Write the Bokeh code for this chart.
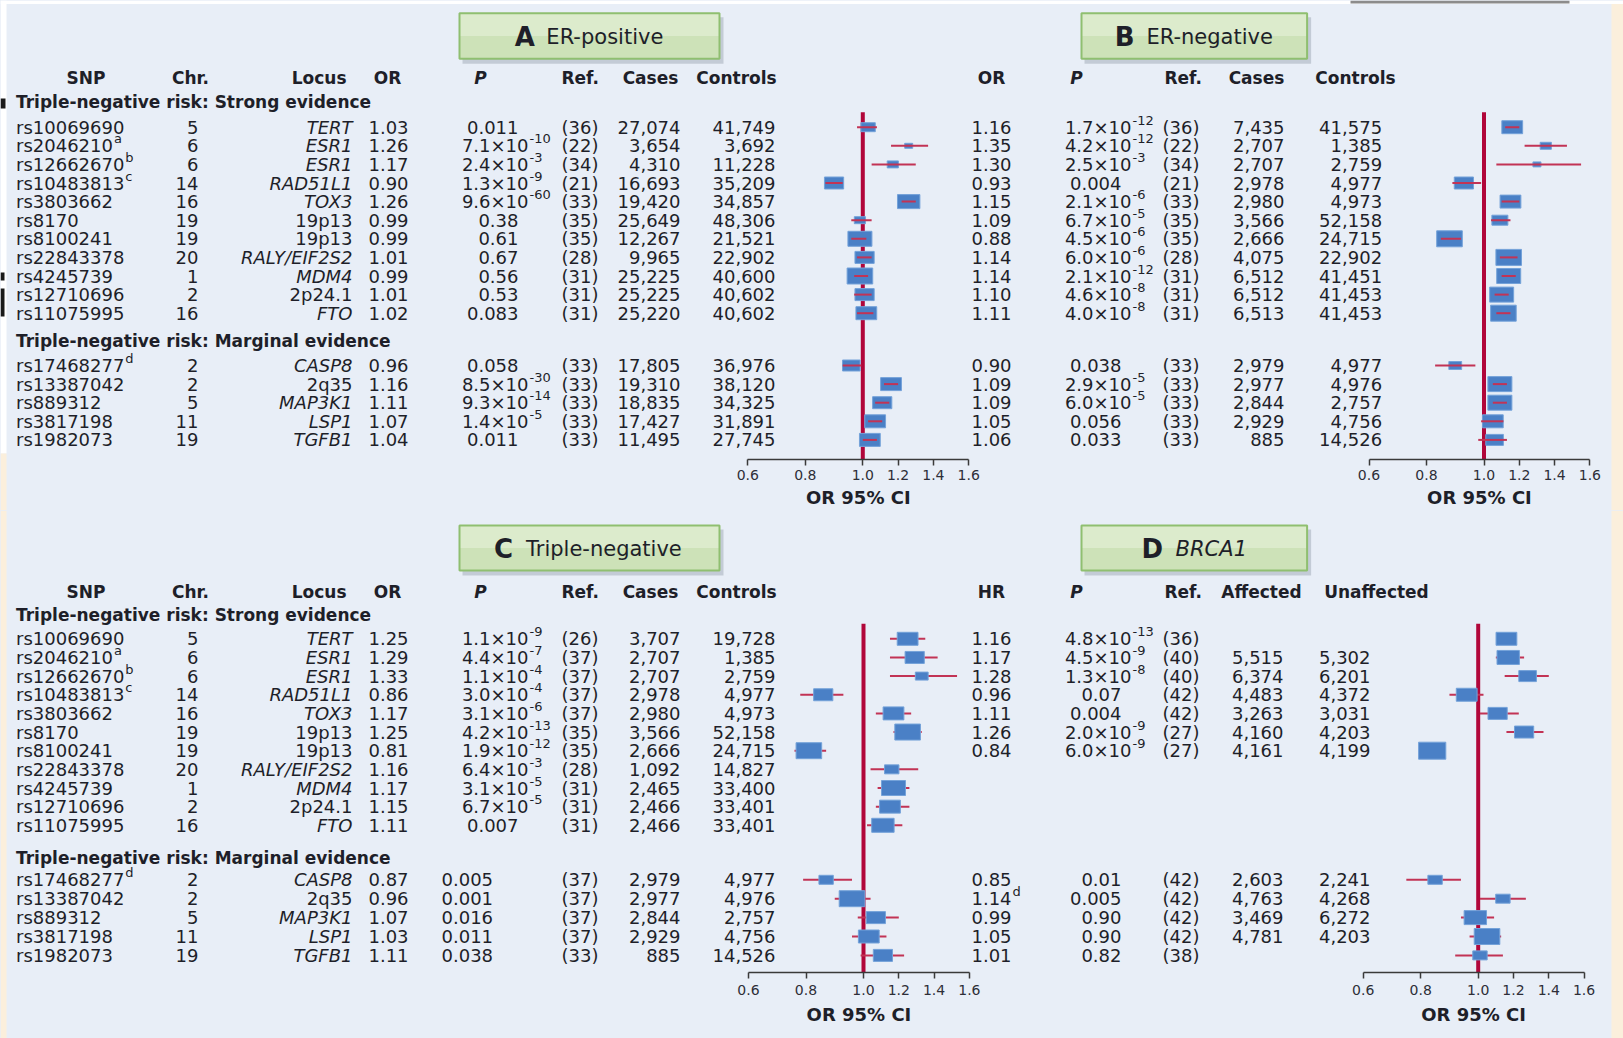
import re
from bokeh.plotting import figure
from bokeh.models import ColumnDataSource, Range1d, FixedTicker, GridBox, LinearAxis
from bokeh.core.properties import value
from bokeh.embed import file_html
from bokeh.resources import INLINE

# ------------------------------------------------------------------ data
snp = ["rs10069690", "rs2046210", "rs12662670", "rs10483813", "rs3803662", "rs8170",
       "rs8100241", "rs22843378", "rs4245739", "rs12710696", "rs11075995",
       "rs17468277", "rs13387042", "rs889312", "rs3817198", "rs1982073"]
snp_note = ["", "a", "b", "c", "", "", "", "", "", "", "", "d", "", "", "", ""]
chrom = [5, 6, 6, 14, 16, 19, 19, 20, 1, 2, 16, 2, 2, 5, 11, 19]
locus = ["TERT", "ESR1", "ESR1", "RAD51L1", "TOX3", "19p13", "19p13", "RALY/EIF2S2",
         "MDM4", "2p24.1", "FTO", "CASP8", "2q35", "MAP3K1", "LSP1", "TGFB1"]

# A: ER-positive
or_A = [1.03, 1.26, 1.17, 0.90, 1.26, 0.99, 0.99, 1.01, 0.99, 1.01, 1.02, 0.96, 1.16, 1.11, 1.07, 1.04]
lo_A = [0.98, 1.16, 1.05, 0.87, 1.22, 0.96, 0.96, 0.98, 0.97, 0.97, 0.98, 0.93, 1.12, 1.07, 1.03, 1.00]
hi_A = [1.08, 1.37, 1.30, 0.93, 1.30, 1.05, 1.02, 1.05, 1.03, 1.05, 1.06, 0.995, 1.20, 1.15, 1.11, 1.08]
w_A = [9, 5, 7, 12, 14, 7, 15, 12, 16, 12, 13, 11, 13, 12, 13, 13]
p_A = ["0.011", "7.1e-10", "2.4e-3", "1.3e-9", "9.6e-60", "0.38", "0.61", "0.67", "0.56",
       "0.53", "0.083", "0.058", "8.5e-30", "9.3e-14", "1.4e-5", "0.011"]
ref_A = [36, 22, 34, 21, 33, 35, 35, 28, 31, 31, 31, 33, 33, 33, 33, 33]
cases_A = [27074, 3654, 4310, 16693, 19420, 25649, 12267, 9965, 25225, 25225, 25220,
           17805, 19310, 18835, 17427, 11495]
ctrl_A = [41749, 3692, 11228, 35209, 34857, 48306, 21521, 22902, 40600, 40602, 40602,
          36976, 38120, 34325, 31891, 27745]

# B: ER-negative
or_B = [1.16, 1.35, 1.30, 0.93, 1.15, 1.09, 0.88, 1.14, 1.14, 1.10, 1.11, 0.90, 1.09, 1.09, 1.05, 1.06]
lo_B = [1.12, 1.23, 1.07, 0.89, 1.10, 1.04, 0.85, 1.09, 1.10, 1.06, 1.07, 0.83, 1.05, 1.05, 0.99, 0.98]
hi_B = [1.20, 1.47, 1.55, 0.99, 1.20, 1.15, 0.92, 1.19, 1.18, 1.14, 1.15, 0.97, 1.13, 1.13, 1.11, 1.13]
w_B = [13, 7, 5, 12, 13, 10, 16, 16, 15, 15, 16, 8, 15, 15, 13, 11]
p_B = ["1.7e-12", "4.2e-12", "2.5e-3", "0.004", "2.1e-6", "6.7e-5", "4.5e-6", "6.0e-6",
       "2.1e-12", "4.6e-8", "4.0e-8", "0.038", "2.9e-5", "6.0e-5", "0.056", "0.033"]
ref_B = [36, 22, 34, 21, 33, 35, 35, 28, 31, 31, 31, 33, 33, 33, 33, 33]
cases_B = [7435, 2707, 2707, 2978, 2980, 3566, 2666, 4075, 6512, 6512, 6513, 2979, 2977, 2844, 2929, 885]
ctrl_B = [41575, 1385, 2759, 4977, 4973, 52158, 24715, 22902, 41451, 41453, 41453,
          4977, 4976, 2757, 4756, 14526]

# C: triple-negative
or_C = [1.25, 1.29, 1.33, 0.86, 1.17, 1.25, 0.81, 1.16, 1.17, 1.15, 1.11, 0.87, 0.96, 1.07, 1.03, 1.11]
lo_C = [1.15, 1.15, 1.15, 0.78, 1.07, 1.17, 0.76, 1.04, 1.08, 1.07, 1.02, 0.79, 0.90, 0.98, 0.96, 0.99]
hi_C = [1.35, 1.42, 1.53, 0.93, 1.27, 1.33, 0.87, 1.31, 1.26, 1.26, 1.22, 0.96, 1.04, 1.20, 1.13, 1.23]
w_C = [13, 12, 8, 12, 13, 16, 16, 9, 15, 13, 14, 9, 16, 12, 13, 12]
p_C = ["1.1e-9", "4.4e-7", "1.1e-4", "3.0e-4", "3.1e-6", "4.2e-13", "1.9e-12", "6.4e-3",
       "3.1e-5", "6.7e-5", "0.007", "0.005", "0.001", "0.016", "0.011", "0.038"]
ref_C = [26, 37, 37, 37, 37, 35, 35, 28, 31, 31, 31, 37, 37, 37, 37, 33]
cases_C = [3707, 2707, 2707, 2978, 2980, 3566, 2666, 1092, 2465, 2466, 2466, 2979, 2977, 2844, 2929, 885]
ctrl_C = [19728, 1385, 2759, 4977, 4973, 52158, 24715, 14827, 33400, 33401, 33401,
          4977, 4976, 2757, 4756, 14526]

# D: BRCA1 carriers (hazard ratios)
hr_D = [1.16, 1.17, 1.28, 0.96, 1.11, 1.26, 0.84, None, None, None, None, 0.85, 1.14, 0.99, 1.05, 1.01]
hr_note = ["", "", "", "", "", "", "", "", "", "", "", "", "d", "", "", ""]
lo_D = [1.12, 1.10, 1.15, 0.90, 1.01, 1.16, 0.81, None, None, None, None, 0.75, 1.01, 0.94, 0.97, 0.92]
hi_D = [1.20, 1.26, 1.40, 1.03, 1.23, 1.37, 0.88, None, None, None, None, 0.94, 1.27, 1.09, 1.13, 1.14]
w_D = [13, 14, 11, 13, 12, 12, 17, None, None, None, None, 9, 9, 14, 16, 9]
p_D = ["4.8e-13", "4.5e-9", "1.3e-8", "0.07", "0.004", "2.0e-9", "6.0e-9", None, None, None, None,
       "0.01", "0.005", "0.90", "0.90", "0.82"]
ref_D = [36, 40, 40, 42, 42, 27, 27, None, None, None, None, 42, 42, 42, 42, 38]
aff_D = [None, 5515, 6374, 4483, 3263, 4160, 4161, None, None, None, None, 2603, 4763, 3469, 4781, None]
unaff_D = [None, 5302, 6201, 4372, 3031, 4203, 4199, None, None, None, None, 2241, 4268, 6272, 4203, None]

axis_ticks = [0.6, 0.8, 1.0, 1.2, 1.4, 1.6]
axis_caption = "OR 95% CI"

# ------------------------------------------------------------------ style
W = 1623
FONT = "DejaVu Sans"
INK = "#1e1f29"
BG = "#e8eef7"
CREAM = "#fbefdc"
RED = "#b1063a"
CI_RED = "#c23355"
BOX = "#4a80c6"
BOX_EDGE = "#74a2d9"
BODY = 18
HEAD = 17
SUP = 13

# DejaVu Sans advance widths (em) for placing superscripts and titles
ADV = {c: .636 for c in "0123456789"}
ADV.update({' ': .318, '.': .318, ',': .318, '-': .361, '/': .337, '(': .390, ')': .390,
            '×': .838, ':': .337, '%': .950,
            'A': .684, 'B': .686, 'C': .698, 'D': .770, 'E': .632, 'F': .575, 'I': .295,
            'L': .557, 'M': .863, 'O': .787, 'P': .603, 'R': .695, 'S': .635, 'T': .611,
            'X': .686, 'Y': .611, 'K': .656, 'N': .748, 'G': .775, 'H': .752, 'U': .732,
            'a': .613, 'b': .635, 'c': .550, 'd': .635, 'e': .615, 'f': .352, 'g': .635,
            'h': .634, 'i': .278, 'k': .579, 'l': .278, 'm': .974, 'n': .634, 'o': .612,
            'p': .635, 'q': .635, 'r': .411, 's': .521, 't': .392, 'u': .634, 'v': .592,
            'w': .818, 'x': .592, 'y': .592, 'z': .525})


def tw(s, px, bold=False):
    return sum(ADV.get(c, .6) for c in s) * px * (1.1 if bold else 1.0)


def T(v):
    """Piecewise-linear OR scale (one unit = one pixel): 0.2 spans 57.5 px below 1, 35.3 px above."""
    return round((v - 1.0) / 0.2 * (57.5 if v < 1 else 35.3), 4)


def row_ys(first, step, mfirst, mstep):
    return [first + step * i for i in range(11)] + [mfirst + mstep * k for k in range(5)]


def put(p, xs, ys, texts, align="left", size=BODY, style="normal", color=INK):
    if not texts:
        return
    src = ColumnDataSource(dict(x=xs, y=ys, t=texts))
    p.text(x="x", y="y", text="t", source=src, text_align=align, text_baseline="middle",
           text_font=value(FONT), text_font_size=value(f"{size}px"), text_font_style=style,
           text_color=color)


def base_fig(height, y_top, x_range):
    """Every figure of one half fills its whole canvas with the plotting frame."""
    p = figure(width=W, height=height, x_range=x_range, y_range=Range1d(y_top + height, y_top),
               x_axis_location=None, y_axis_location=None, toolbar_location=None,
               output_backend="svg", min_border=0, outline_line_color=None)
    p.grid.visible = False
    return p


def make_bg(height, y_top):
    p = base_fig(height, y_top, Range1d(0, W))
    p.background_fill_color = BG
    p.border_fill_color = BG
    return p


def title_box(p, left, right, top, bottom, letter, word, word_style="normal"):
    p.quad(left=left + 3, right=right + 4, top=top + 4, bottom=bottom + 5,
           fill_color="#7d8a99", fill_alpha=0.35, line_color=None)
    p.quad(left=left, right=right, top=top, bottom=(top + bottom) / 2,
           fill_color="#dcebcc", line_color=None)
    p.quad(left=left, right=right, top=(top + bottom) / 2, bottom=bottom,
           fill_color="#cde2b8", line_color=None)
    p.quad(left=left, right=right, top=top, bottom=bottom, fill_color=None,
           line_color="#8fbf70", line_width=2)
    lw = tw(letter, 26, True)
    total = lw + 12 + tw(word, 21)
    x0 = (left + right) / 2 - total / 2
    yc = (top + bottom) / 2 + 0.5
    put(p, [x0], [yc], [letter], size=26, style="bold")
    put(p, [x0 + lw + 12], [yc], [word], size=21, style=word_style)


def draw_p(p, ys, pvals, base_right, plain_x, plain_align="right", marg_plain=None):
    bx, by, bt, ex, ey, et = [], [], [], [], [], []
    px_r, py_r, pt_r, px_l, py_l, pt_l = [], [], [], [], [], []
    for i, (y, s) in enumerate(zip(ys, pvals)):
        if s is None:
            continue
        if "e" in s:
            m, e = s.split("e")
            bx.append(base_right); by.append(y); bt.append(m + "×10")
            ex.append(base_right + 1); ey.append(y - 7); et.append(e)
        else:
            x, al = plain_x, plain_align
            if marg_plain is not None and i >= 11:
                x, al = marg_plain
            if al == "left":
                px_l.append(x); py_l.append(y); pt_l.append(s)
            else:
                px_r.append(x); py_r.append(y); pt_r.append(s)
    put(p, bx, by, bt, align="right")
    put(p, ex, ey, et, align="left", size=SUP)
    put(p, px_r, py_r, pt_r, align="right")
    put(p, px_l, py_l, pt_l, align="left")


def left_table(p, ys, head_y, strong_y, marg_y, ors, pvals, refs, cases, ctrls, marg_plain=None):
    put(p, [85.5, 190, 387, 650, 736], [head_y] * 5,
        ["SNP", "Chr.", "OR", "Cases", "Controls"], align="center", size=HEAD, style="bold")
    put(p, [346], [head_y], ["Locus"], align="right", size=HEAD, style="bold")
    put(p, [561], [head_y], ["Ref."], size=HEAD, style="bold")
    put(p, [480], [head_y], ["P"], align="center", size=HEAD, style="bold italic")
    put(p, [15.5, 15.5], [strong_y, marg_y],
        ["Triple-negative risk: Strong evidence", "Triple-negative risk: Marginal evidence"],
        size=HEAD, style="bold")
    put(p, [15.5] * len(ys), ys, snp)
    nx, ny, nt = [], [], []
    for s, n, y in zip(snp, snp_note, ys):
        if n:
            nx.append(15.5 + tw(s, BODY) + 1); ny.append(y - 7); nt.append(n)
    put(p, nx, ny, nt, size=SUP)
    put(p, [198] * len(ys), ys, [str(c) for c in chrom], align="right")
    band = [bool(re.match(r"^\d+[pq][\d.]+$", l)) for l in locus]
    put(p, [352] * sum(band), [y for y, b in zip(ys, band) if b],
        [l for l, b in zip(locus, band) if b], align="right")
    put(p, [352] * (len(band) - sum(band)), [y for y, b in zip(ys, band) if not b],
        [l for l, b in zip(locus, band) if not b], align="right", style="italic")
    put(p, [388] * len(ys), ys, [f"{v:.2f}" for v in ors], align="center")
    draw_p(p, ys, pvals, 528, 518, "right", marg_plain)
    put(p, [561] * len(ys), ys, [f"({r})" for r in refs])
    put(p, [680] * len(ys), ys, [f"{n:,}" for n in cases], align="right")
    put(p, [775] * len(ys), ys, [f"{n:,}" for n in ctrls], align="right")


def right_table(p, ys, head_y, est_lab, ests, notes, pvals, refs, n1, n2, lab1, lab2,
                n1_right, n2_right, lab1_x, lab2_x):
    put(p, [991, lab1_x, lab2_x], [head_y] * 3, [est_lab, lab1, lab2],
        align="center", size=HEAD, style="bold")
    put(p, [1164], [head_y], ["Ref."], size=HEAD, style="bold")
    put(p, [1076], [head_y], ["P"], align="center", size=HEAD, style="bold italic")
    ey_, et_, nx, ny, nt = [], [], [], [], []
    for v, n, y in zip(ests, notes, ys):
        if v is None:
            continue
        s = f"{v:.2f}"
        ey_.append(y); et_.append(s)
        if n:
            nx.append(991 + tw(s, BODY) / 2 + 1); ny.append(y - 7); nt.append(n)
    put(p, [991] * len(ey_), ey_, et_, align="center")
    put(p, nx, ny, nt, size=SUP)
    draw_p(p, ys, pvals, 1131, 1121, "right")
    rr = [(y, r) for y, r in zip(ys, refs) if r is not None]
    put(p, [1162] * len(rr), [y for y, _ in rr], [f"({r})" for _, r in rr])
    a = [(y, v) for y, v in zip(ys, n1) if v is not None]
    put(p, [n1_right] * len(a), [y for y, _ in a], [f"{v:,}" for _, v in a], align="right")
    b = [(y, v) for y, v in zip(ys, n2) if v is not None]
    put(p, [n2_right] * len(b), [y for y, _ in b], [f"{v:,}" for _, v in b], align="right")


def forest(height, y_top, axis_y, tick_left, ys, est, lo, hi, wt, lines_over, tick_standoff):
    one = tick_left - T(0.6)          # pixel column of OR = 1.0
    p = base_fig(height, y_top, Range1d(-one, W - one))
    p.background_fill_color = None
    p.border_fill_color = None
    keep = [i for i, v in enumerate(est) if v is not None]
    src = ColumnDataSource(dict(
        x=[T(est[i]) for i in keep], y=[ys[i] for i in keep],
        x0=[T(lo[i]) for i in keep], x1=[T(hi[i]) for i in keep],
        bw=[1.6 * wt[i] for i in keep], bh=[wt[i] for i in keep]))
    p.segment(x0=[T(1.0)], x1=[T(1.0)], y0=[ys[0] - 15], y1=[axis_y],
              line_color=RED, line_width=4)

    def boxes():
        p.rect(x="x", y="y", width="bw", height="bh", width_units="screen",
               height_units="screen", source=src, fill_color=BOX, line_color=BOX_EDGE,
               line_width=1)

    def whiskers():
        p.segment(x0="x0", x1="x1", y0="y", y1="y", source=src, line_color=CI_RED,
                  line_width=2)

    if lines_over:
        boxes(); whiskers()
    else:
        whiskers(); boxes()

    # OR scale drawn just under the last row
    ax = LinearAxis(fixed_location=axis_y, bounds=(T(0.6), T(1.6)),
                    ticker=FixedTicker(ticks=[T(v) for v in axis_ticks]),
                    major_label_overrides={T(v): f"{v:.1f}" for v in axis_ticks})
    ax.axis_line_color = "#3a3a3a"
    ax.axis_line_width = 1.5
    ax.major_tick_line_color = "#3a3a3a"
    ax.major_tick_line_width = 1.5
    ax.major_tick_in = 0
    ax.major_tick_out = 6
    ax.minor_tick_line_color = None
    ax.major_label_text_font = FONT
    ax.major_label_text_font_size = "14px"
    ax.major_label_text_color = "#2e2e38"
    ax.major_label_standoff = tick_standoff
    p.add_layout(ax, "below")
    return p


def caption(p, tick_left, y):
    mid = tick_left + (T(1.6) - T(0.6)) / 2
    put(p, [mid], [y], [axis_caption], align="center", size=18, style="bold")


# ------------------------------------------------------------------ top half
ys_top = row_ys(126.7, 18.6, 365.0, 18.6)
top = make_bg(510, 0)
top.quad(left=[0, 0, 1611, 0, 1350], right=[6, 6, W, W, 1569],
         top=[0, 453, 3.5, 0, 0], bottom=[453, 510, 510, 3.5, 3],
         fill_color=["white", CREAM, CREAM, "white", "#8c8c8c"], line_color=None)
top.quad(left=[0, 0, 0], right=[5, 4, 4], top=[98, 272, 288], bottom=[108, 280, 316],
         fill_color="#1a1a1a", line_color=None)
title_box(top, 459, 719, 12.7, 58.3, "A", "ER-positive")
title_box(top, 1081, 1306.6, 12.7, 58.3, "B", "ER-negative")
left_table(top, ys_top, 77.3, 101, 340.7, or_A, p_A, ref_A, cases_A, ctrl_A)
right_table(top, ys_top, 77.3, "OR", or_B, [""] * 16, p_B, ref_B, cases_B, ctrl_B,
            "Cases", "Controls", 1284, 1381.6, 1256, 1355)
caption(top, 747.3, 497)
caption(top, 1368.5, 497)
fA = forest(510, 0, 459, 747.3, ys_top, or_A, lo_A, hi_A, w_A, True, 4)
fB = forest(510, 0, 459, 1368.5, ys_top, or_B, lo_B, hi_B, w_B, True, 4)

# ------------------------------------------------------------------ bottom half
ys_bot = row_ys(638.3, 18.65, 879.3, 18.9)
bot = make_bg(528, 510)
bot.quad(left=[0, 1611], right=[6, W], top=[510, 510], bottom=[1038, 1038],
         fill_color=CREAM, line_color=None)
title_box(bot, 459, 719, 525, 570, "C", "Triple-negative")
title_box(bot, 1081, 1306.6, 525, 570, "D", "BRCA1", "italic")
left_table(bot, ys_bot, 591, 614.3, 857.3, or_C, p_C, ref_C, cases_C, ctrl_C,
           marg_plain=(441, "left"))
right_table(bot, ys_bot, 591, "HR", hr_D, hr_note, p_D, ref_D, aff_D, unaff_D,
            "Affected", "Unaffected", 1283, 1370, 1261, 1376)
caption(bot, 748, 1014)
caption(bot, 1362.7, 1014)
fC = forest(528, 510, 972, 748, ys_bot, or_C, lo_C, hi_C, w_C, False, 6)
fD = forest(528, 510, 972, 1362.7, ys_bot, hr_D, lo_D, hi_D, w_D, False, 6)

grid = GridBox(children=[(top, 0, 0), (fA, 0, 0), (fB, 0, 0),
                         (bot, 1, 0), (fC, 1, 0), (fD, 1, 0)],
               styles={"background-color": BG})

open("out.html", "w").write(file_html(grid, INLINE, title="Breast cancer risk loci"))
